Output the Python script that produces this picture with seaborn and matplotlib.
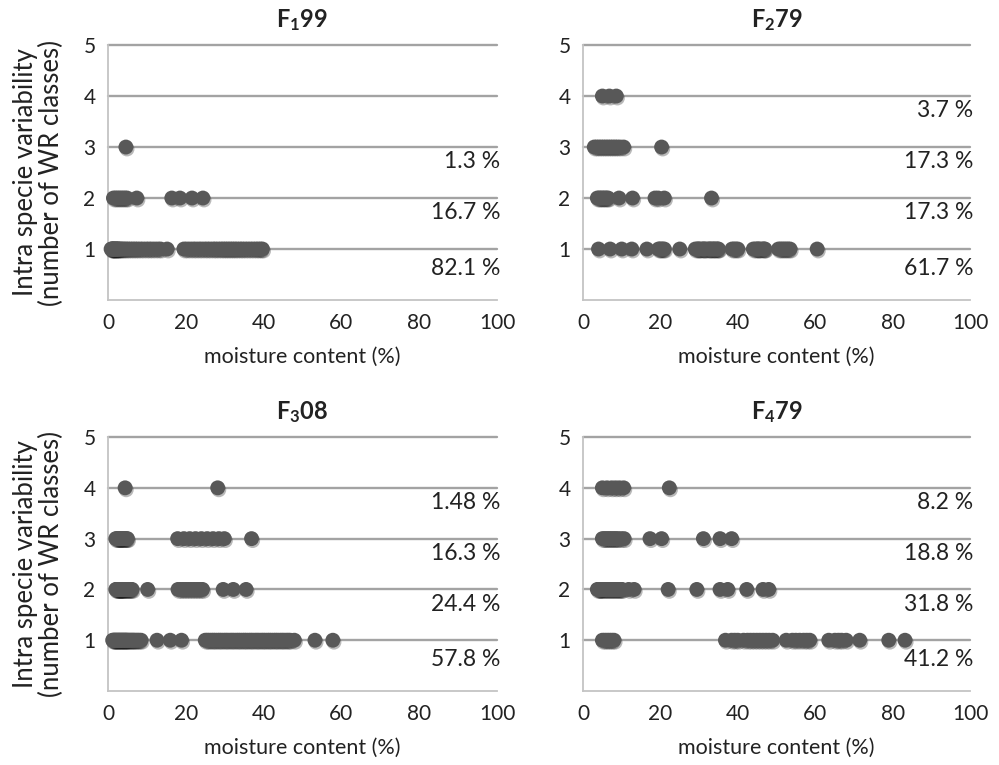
import seaborn as sns
import matplotlib.pyplot as plt
import matplotlib.patheffects as pe
import pandas as pd

# moisture content (%) of each sample, grouped by number of WR classes
f1_row1 = [0.8, 1.0, 1.1, 1.2, 1.4, 1.5, 1.6, 1.8, 2.0, 2.1, 2.2, 2.5, 2.6, 2.8, 3.1, 3.4,
           3.8, 4.2, 4.7, 5.2, 5.8, 6.4, 7.0, 7.6, 8.3, 9.0, 9.8, 10.5, 11.2, 12.0, 12.8,
           13.5, 15.2, 19.5, 20.2, 21.0, 21.8, 22.5, 23.3, 24.0, 24.8, 25.5, 26.2, 27.0,
           27.6, 28.3, 29.0, 29.6, 30.2, 30.8, 31.4, 32.0, 32.6, 33.2, 33.9, 34.5, 35.2,
           35.9, 36.6, 37.3, 38.0, 38.6, 39.2, 39.7]
f1_row2 = [1.4, 1.9, 2.4, 2.9, 3.4, 3.9, 4.4, 4.9, 7.4, 16.4, 18.5, 21.6, 24.4]
f1_row3 = [4.6]

f2_row1 = [4.0, 7.0, 10.0, 12.6, 16.5, 19.5, 19.8, 20.2, 20.6, 21.0, 25.0, 29.0, 29.5,
           29.8, 30.0, 30.5, 31.0, 31.2, 31.5, 32.0, 32.5, 32.8, 33.0, 33.5, 33.8, 34.0,
           34.5, 34.8, 35.0, 38.5, 39.0, 39.5, 40.0, 44.0, 44.5, 45.0, 45.2, 45.5, 46.0,
           46.5, 46.8, 47.0, 50.5, 51.0, 51.5, 52.0, 52.5, 53.0, 53.5, 60.5]
f2_row2 = [3.7, 4.1, 4.5, 4.9, 5.3, 5.7, 6.1, 6.5, 9.3, 12.8, 18.6, 19.4, 21.0, 33.2]
f2_row3 = [2.9, 3.5, 4.1, 4.7, 5.3, 5.9, 6.5, 7.1, 7.7, 8.3, 8.9, 9.6, 10.5, 20.3]
f2_row4 = [5.0, 6.8, 8.6]

f3_row1 = [1.2, 1.4, 1.6, 1.8, 2.0, 2.2, 2.4, 2.6, 2.8, 3.0, 3.2, 3.4, 3.6, 3.8, 4.0, 4.2,
           4.4, 4.6, 4.8, 5.0, 5.3, 5.6, 5.9, 6.2, 6.5, 6.8, 7.2, 7.6, 8.0, 8.5, 12.6, 16.0,
           18.9, 25.0, 25.5, 26.0, 26.6, 27.1, 27.6, 28.2, 28.7, 29.2, 29.8, 30.3, 30.8,
           31.4, 31.9, 32.4, 33.0, 33.5, 34.0, 34.6, 35.1, 35.6, 36.2, 36.7, 37.2, 37.8,
           38.3, 38.8, 39.4, 39.9, 40.4, 41.0, 41.5, 42.0, 42.6, 43.1, 43.6, 44.2, 44.7,
           45.2, 45.8, 46.3, 46.8, 47.9, 53.2, 57.8]
f3_row2 = [2.0, 2.2, 2.4, 2.6, 2.8, 3.0, 3.1, 3.2, 3.4, 3.6, 3.8, 4.0, 4.3, 4.6, 4.9, 5.2,
           5.5, 5.8, 6.2, 10.2, 18.0, 18.7, 19.4, 20.1, 20.8, 21.5, 22.2, 22.9, 23.6, 24.3,
           29.6, 32.2, 35.5]
f3_row3 = [2.0, 2.3, 2.6, 2.9, 3.0, 3.2, 3.5, 3.8, 4.1, 4.4, 4.7, 5.0, 17.9, 19.5, 21.0,
           22.5, 24.0, 25.5, 27.0, 28.5, 29.9, 36.9]
f3_row4 = [4.4, 28.2]

f4_row1 = [5.0, 5.6, 6.2, 6.8, 7.4, 8.0, 36.8, 38.4, 39.2, 40.0, 41.5, 42.5, 43.3, 44.1,
           44.9, 45.7, 46.5, 47.3, 48.1, 49.0, 52.5, 54.1, 55.0, 56.0, 57.0, 57.8, 58.6,
           63.5, 65.1, 66.0, 66.8, 68.0, 71.5, 79.0, 83.2]
f4_row2 = [3.7, 4.1, 4.3, 4.5, 4.9, 5.3, 5.7, 6.1, 6.5, 6.9, 7.3, 7.7, 8.1, 8.5, 8.9, 9.3,
           9.7, 10.1, 11.8, 13.2, 22.0, 29.4, 35.4, 37.4, 42.3, 46.5, 48.0]
f4_row3 = [5.0, 5.5, 6.0, 6.5, 7.0, 7.5, 8.0, 8.5, 9.0, 9.8, 10.6, 17.3, 20.3, 31.1, 35.4,
           38.4]
f4_row4 = [5.0, 6.2, 7.4, 8.4, 9.4, 10.5, 22.3]

titles = [r"$\mathbf{F_{1}99}$", r"$\mathbf{F_{2}79}$", r"$\mathbf{F_{3}08}$", r"$\mathbf{F_{4}79}$"]
panel_rows = [
    {1: f1_row1, 2: f1_row2, 3: f1_row3},
    {1: f2_row1, 2: f2_row2, 3: f2_row3, 4: f2_row4},
    {1: f3_row1, 2: f3_row2, 3: f3_row3, 4: f3_row4},
    {1: f4_row1, 2: f4_row2, 3: f4_row3, 4: f4_row4},
]
panel_pcts = [
    {1: "82.1 %", 2: "16.7 %", 3: "1.3 %"},
    {1: "61.7 %", 2: "17.3 %", 3: "17.3 %", 4: "3.7 %"},
    {1: "57.8 %", 2: "24.4 %", 3: "16.3 %", 4: "1.48 %"},
    {1: "41.2 %", 2: "31.8 %", 3: "18.8 %", 4: "8.2 %"},
]

sns.set_theme(style="white")
plt.rcParams['font.family'] = ['Lato', 'DejaVu Sans']
plt.rcParams['mathtext.fontset'] = 'custom'
plt.rcParams['mathtext.rm'] = 'Lato'
plt.rcParams['mathtext.bf'] = 'Lato:bold'

txt = '#222222'
fig = plt.figure(figsize=(9.99, 7.65), dpi=100)
boxes = [[0.1081, 0.6078, 0.3894, 0.3333], [0.5836, 0.6078, 0.3874, 0.3333],
         [0.1081, 0.0967, 0.3894, 0.3320], [0.5836, 0.0967, 0.3874, 0.3320]]

for i in range(4):
    ax = fig.add_axes(boxes[i])
    recs = []
    for cls, xs in panel_rows[i].items():
        for x in xs:
            recs.append({"moisture": x, "classes": cls})
    df = pd.DataFrame(recs)

    for y in range(1, 6):
        ax.axhline(y, color='#a3a3a3', lw=1.7, zorder=0, clip_on=False)

    sns.scatterplot(data=df, x="moisture", y="classes", ax=ax, color='#585858',
                    s=115, linewidth=0, zorder=3, clip_on=False)
    ax.collections[-1].set_path_effects([
        pe.SimplePatchShadow(offset=(0.8, -1.4), shadow_rgbFace='#1a1a1a', alpha=0.3),
        pe.Normal()])

    for cls, lab in panel_pcts[i].items():
        off = 0.38 if cls == 1 else 0.29
        ax.text(100.8, cls - off, lab, ha='right', va='center', fontsize=16.5, color=txt)

    ax.set_xlim(0, 100)
    ax.set_ylim(0, 5)
    ax.set_xticks([0, 20, 40, 60, 80, 100])
    ax.set_yticks([0, 1, 2, 3, 4, 5])
    ax.set_yticklabels(['', '1', '2', '3', '4', '5'])
    sns.despine(ax=ax)
    for s in ['left', 'bottom']:
        ax.spines[s].set_color('#c4c4c4')
        ax.spines[s].set_linewidth(1.3)
    ax.tick_params(axis='both', direction='out', length=5, width=1.2, color='#c4c4c4',
                   labelsize=15, labelcolor=txt, pad=4)
    ax.set_xlabel("moisture content (%)", fontsize=15.5, color=txt, labelpad=10)
    if i % 2 == 0:
        ax.set_ylabel("Intra specie variability\n(number of WR classes)", fontsize=18.5,
                      color=txt, labelpad=14, linespacing=1.05)
    else:
        ax.set_ylabel("")
    ax.set_title(titles[i], fontsize=17, color=txt, pad=13)

fig.savefig("out.png", dpi=100)
